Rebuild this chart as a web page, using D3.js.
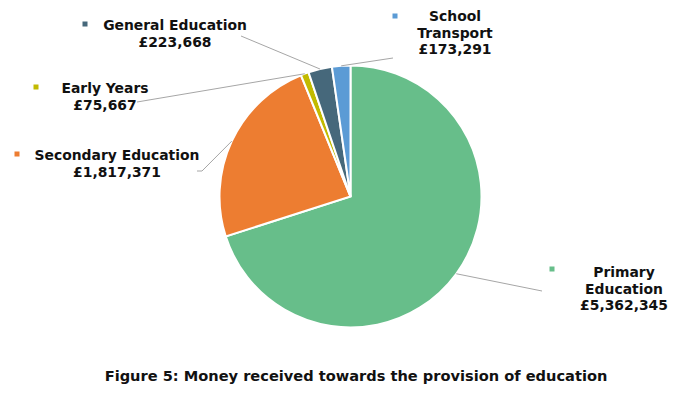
<!DOCTYPE html>
<html>
<head>
<meta charset="utf-8">
<script src="https://cdn.jsdelivr.net/npm/d3@7"></script>
<style>
  html, body { margin: 0; padding: 0; background: #fff; }
  text { font-family: "DejaVu Sans", Verdana, sans-serif; font-weight: bold; fill: #111; }
</style>
</head>
<body>
<div id="viz"></div>
<script>
// Money received towards the provision of education, by category
var categories = ["Primary Education", "Secondary Education", "Early Years", "General Education", "School Transport"];
var values = [5362345, 1817371, 75667, 223668, 173291];
var colours = ["#67BE8A", "#ED7D31", "#C2BA00", "#46687B", "#5B9BD5"];

// label text lines (name split as in the picture)
var labelLines = [
    ["Primary", "Education"],
    ["Secondary Education"],
    ["Early Years"],
    ["General Education"],
    ["School", "Transport"]
];

var width = 694, height = 396;
var cx = 350.5, cy = 196.5, radius = 131;

// where each label sits: centre x, first baseline, marker pos, leader end
var labelLayout = [
    {x: 624, y: 277, mx: 552, my: 269, lx: 542, ly: 291},
    {x: 117, y: 160, mx: 17, my: 154, lx: 202, ly: 171, hook: 197},
    {x: 105, y: 93, mx: 36, my: 87, lx: 137, ly: 102},
    {x: 175, y: 30, mx: 85, my: 24, lx: 241, ly: 36},
    {x: 455, y: 21, mx: 395, my: 16, lx: 393, ly: 58}
];

var fmt = d3.format(",");

var svg = d3.select("#viz")
    .append("svg")
    .attr("width", width)
    .attr("height", height);

var pie = d3.pie().sort(null).value(function(d) { return d; });
var arcs = pie(values);
var arc = d3.arc().innerRadius(0).outerRadius(radius);

var g = svg.append("g").attr("transform", "translate(" + cx + "," + cy + ")");

g.selectAll("path")
    .data(arcs)
    .enter().append("path")
    .attr("d", arc)
    .attr("fill", function(d, i) { return colours[i]; })
    .attr("stroke", "#fff")
    .attr("stroke-width", 2);

// leader lines from the slice edge to the label
var lines = svg.append("g").attr("id", "leaders");
arcs.forEach(function(d, i) {
    var mid = (d.startAngle + d.endAngle) / 2;
    var px = cx + radius * Math.sin(mid);
    var py = cy - radius * Math.cos(mid);
    var L = labelLayout[i];
    var pts = [[px, py], [L.lx, L.ly]];
    if (L.hook) pts.push([L.hook, L.ly]);
    lines.append("polyline")
        .attr("points", pts.map(function(p) { return p.join(","); }).join(" "))
        .attr("fill", "none")
        .attr("stroke", "#A6A6A6")
        .attr("stroke-width", 1);
});

// labels
var labels = svg.append("g").attr("id", "labels");
categories.forEach(function(c, i) {
    var L = labelLayout[i];
    labels.append("rect")
        .attr("x", L.mx - 2.5)
        .attr("y", L.my - 2.5)
        .attr("width", 5)
        .attr("height", 5)
        .attr("fill", colours[i]);
    var t = labels.append("text")
        .attr("text-anchor", "middle")
        .attr("font-size", 13.9);
    var lns = labelLines[i].concat(["\u00a3" + fmt(values[i])]);
    lns.forEach(function(s, k) {
        t.append("tspan")
            .attr("x", L.x)
            .attr("y", L.y + k * 16.5)
            .text(s);
    });
});

svg.append("text")
    .attr("x", 356)
    .attr("y", 381)
    .attr("text-anchor", "middle")
    .attr("font-size", 14.6)
    .text("Figure 5: Money received towards the provision of education");
</script>
</body>
</html>
